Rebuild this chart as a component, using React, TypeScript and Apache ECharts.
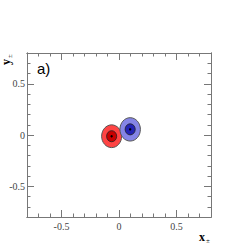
import React, { useEffect, useRef } from "react";
import * as echarts from "echarts";

// axis ranges and ticks
const xRange = [-0.8, 0.8];
const yRange = [-0.8, 0.8];
const majorTicks = [-0.5, 0, 0.5];
const minorTicks = [-0.7, -0.6, -0.4, -0.3, -0.2, -0.1, 0.1, 0.2, 0.3, 0.4, 0.6, 0.7];

// contour data: [centerX, centerY, outerRx, outerRy, innerRx, innerRy]
const minusContour = [-0.064, -0.012, 0.087, 0.111, 0.044, 0.054];
const plusContour = [0.097, 0.055, 0.089, 0.114, 0.044, 0.054];
const contourColors = [
  { outer: "#ff4444", inner: "#c80000", stroke: "#555555" },
  { outer: "#8484e6", inner: "#2222b4", stroke: "#555555" },
];

const serif = "'Liberation Serif', 'DejaVu Serif', serif";

export default function App() {
  const ref = useRef<HTMLDivElement>(null);
  useEffect(() => {
    if (!ref.current) return;
    const chart = echarts.init(ref.current, null, { renderer: "svg" });
    const grid = { left: 27, top: 53, width: 184, height: 164 };
    const axisLine = { show: true, onZero: false, lineStyle: { color: "#777777", width: 1 } };
    const mkX = (pos: string, vals: number[], len: number, labels: boolean) => ({
      type: "value",
      position: pos,
      min: xRange[0],
      max: xRange[1],
      axisLine,
      splitLine: { show: false },
      axisTick: { show: true, inside: true, length: len, customValues: vals, lineStyle: { color: "#777777" } },
      axisLabel: labels
        ? { show: true, customValues: majorTicks, fontFamily: serif, fontSize: 10, color: "#444444", margin: 4 }
        : { show: false },
    });
    const mkY = (pos: string, vals: number[], len: number, labels: boolean) => ({
      type: "value",
      position: pos,
      min: yRange[0],
      max: yRange[1],
      axisLine,
      splitLine: { show: false },
      axisTick: { show: true, inside: true, length: len, customValues: vals, lineStyle: { color: "#777777" } },
      axisLabel: labels
        ? { show: true, customValues: majorTicks, fontFamily: serif, fontSize: 10, color: "#444444", margin: 2 }
        : { show: false },
    });
    const data = [minusContour, plusContour];
    chart.setOption({
      animation: false,
      grid,
      xAxis: [
        mkX("bottom", majorTicks, 7, true),
        mkX("bottom", minorTicks, 3.5, false),
        mkX("top", majorTicks, 7, false),
        mkX("top", minorTicks, 3.5, false),
      ],
      yAxis: [
        mkY("left", majorTicks, 7, true),
        mkY("left", minorTicks, 3.5, false),
        mkY("right", majorTicks, 7, false),
        mkY("right", minorTicks, 3.5, false),
      ],
      series: [
        {
          type: "custom",
          xAxisIndex: 0,
          yAxisIndex: 0,
          data,
          renderItem: (params: any, api: any) => {
            const c = api.coord([api.value(0), api.value(1)]);
            const so = api.size([api.value(2), api.value(3)]);
            const si = api.size([api.value(4), api.value(5)]);
            const col = contourColors[params.dataIndex];
            return {
              type: "group",
              children: [
                {
                  type: "ellipse",
                  shape: { cx: c[0], cy: c[1], rx: so[0], ry: so[1] },
                  style: { fill: col.outer, stroke: col.stroke, lineWidth: 1 },
                },
                {
                  type: "ellipse",
                  shape: { cx: c[0], cy: c[1], rx: si[0], ry: si[1] },
                  style: { fill: col.inner, stroke: "#222222", lineWidth: 0.8 },
                },
                {
                  type: "circle",
                  shape: { cx: c[0], cy: c[1], r: 1.2 },
                  style: { fill: "#000000" },
                },
              ],
            };
          },
        },
      ],
      graphic: [
        {
          type: "text",
          left: 37,
          top: 61,
          style: { text: "a)", font: "15px 'Liberation Sans', Arial, sans-serif", fill: "#000000" },
        },
        {
          type: "text",
          x: 199,
          y: 231,
          style: { text: "x", font: "bold 12px " + serif, fill: "#000000" },
        },
        {
          type: "text",
          x: 206,
          y: 237,
          style: { text: "±", font: "7px " + serif, fill: "#000000" },
        },
        {
          type: "text",
          x: 0,
          y: 65,
          rotation: Math.PI / 2,
          style: { text: "y", font: "bold 12px " + serif, fill: "#000000", textAlign: "left", textVerticalAlign: "top" },
        },
        {
          type: "text",
          x: 6,
          y: 58,
          rotation: Math.PI / 2,
          style: { text: "±", font: "7px " + serif, fill: "#000000", textAlign: "left", textVerticalAlign: "top" },
        },
      ],
    });
    return () => chart.dispose();
  }, []);
  return (
    <div
      ref={ref}
      style={{ position: "fixed", left: 0, top: 0, width: 240, height: 251, background: "#ffffff" }}
    />
  );
}
